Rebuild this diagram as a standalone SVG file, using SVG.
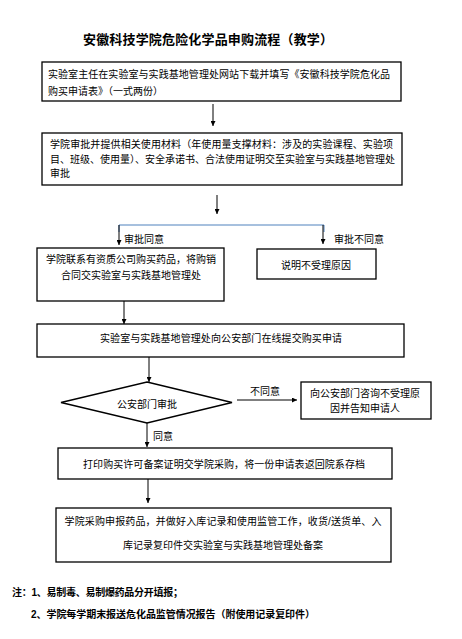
<svg xmlns="http://www.w3.org/2000/svg" width="462" height="639" viewBox="0 0 462 639">
<defs>
<marker id="ah" viewBox="0 0 10 10" refX="10" refY="5" markerWidth="5" markerHeight="5" markerUnits="userSpaceOnUse" orient="auto">
<path d="M0,0 L10,5 L0,10 z" fill="#000"/>
</marker>
</defs>
<style>
text{font-family:"Liberation Sans","Noto Sans CJK SC",sans-serif;font-size:10px;fill:#000}
.t{font-size:13px;font-weight:bold}
.n{font-size:10px;font-weight:bold}
.box{fill:#fff;stroke:#000;stroke-width:1.3}
.c{stroke:#000;stroke-width:1;fill:none}
.m{text-anchor:middle}
</style>
<rect width="462" height="639" fill="#fff"/>
<text class="t" x="83" y="44" textLength="250">安徽科技学院危险化学品申购流程（教学）</text>
<g id="connectors">
<line class="c" x1="213" y1="104" x2="213" y2="126" marker-end="url(#ah)"/>
<line class="c" x1="217" y1="195" x2="217" y2="214" marker-end="url(#ah)"/>
<polyline points="119,232 119,225 324,225 324,232" fill="none" stroke="#4F81BD" stroke-width="1"/>
<line class="c" x1="119" y1="225" x2="119" y2="245" stroke="#333" marker-end="url(#ah)"/>
<line class="c" x1="323" y1="225" x2="323" y2="244" stroke="#333" marker-end="url(#ah)"/>
<text x="124" y="243">审批同意</text>
<text x="334" y="243">审批不同意</text>
<line class="c" x1="124" y1="301" x2="124" y2="324" stroke="#333" marker-end="url(#ah)"/>
<line class="c" x1="149" y1="357" x2="149" y2="382" marker-end="url(#ah)"/>
<line class="c" x1="237" y1="400" x2="297" y2="400" marker-end="url(#ah)"/>
<text x="250" y="395">不同意</text>
<line class="c" x1="147" y1="423" x2="147" y2="447" marker-end="url(#ah)"/>
<text x="153" y="440">同意</text>
<line class="c" x1="148" y1="479" x2="148" y2="503" marker-end="url(#ah)"/>
</g>
<g id="n1">
<rect class="box" x="42" y="62" width="359" height="39"/>
<text x="48" y="78" textLength="342">实验室主任在实验室与实践基地管理处网站下载并填写《安徽科技学院危化品</text>
<text x="48" y="95">购买申请表》（一式两份）</text>
</g>
<g id="n2">
<rect class="box" x="42" y="133" width="360" height="52"/>
<text x="50" y="148" textLength="343">学院审批并提供相关使用材料（年使用量支撑材料：涉及的实验课程、实验项</text>
<text x="50" y="163" textLength="345">目、班级、使用量）、安全承诺书、合法使用证明交至实验室与实践基地管理处</text>
<text x="50" y="177">审批</text>
</g>
<g id="n3">
<rect class="box" x="37" y="248" width="187" height="53"/>
<text class="m" x="131" y="263" textLength="170">学院联系有资质公司购买药品，将购销</text>
<text class="m" x="131" y="279" textLength="140">合同交实验室与实践基地管理处</text>
</g>
<g id="n4">
<rect class="box" x="257" y="249" width="119" height="30"/>
<text class="m" x="316" y="269">说明不受理原因</text>
</g>
<g id="n5">
<rect class="box" x="37" y="324" width="367" height="33"/>
<text class="m" x="221" y="342" textLength="242">实验室与实践基地管理处向公安部门在线提交购买申请</text>
</g>
<g id="n6">
<polygon class="box" points="147,382 232,402.5 147,423 61,402.5"/>
<text class="m" x="147" y="408">公安部门审批</text>
</g>
<g id="n7">
<rect class="box" x="301" y="382" width="130" height="37"/>
<text class="m" x="365" y="397" textLength="110">向公安部门咨询不受理原</text>
<text class="m" x="365" y="412">因并告知申请人</text>
</g>
<g id="n8">
<rect class="box" x="58" y="448" width="334" height="31"/>
<text class="m" x="224" y="468" textLength="282">打印购买许可备案证明交学院采购，将一份申请表返回院系存档</text>
</g>
<g id="n9">
<rect class="box" x="56" y="508" width="335" height="54"/>
<text class="m" x="223" y="525" textLength="317">学院采购申报药品，并做好入库记录和使用监管工作，收货/送货单、入</text>
<text class="m" x="223" y="549" textLength="200">库记录复印件交实验室与实践基地管理处备案</text>
</g>
<text class="n" x="12" y="596" textLength="171">注：1、易制毒、易制爆药品分开填报；</text>
<text class="n" x="31" y="618" textLength="284">2、学院每学期末报送危化品监管情况报告（附使用记录复印件）</text>
</svg>
